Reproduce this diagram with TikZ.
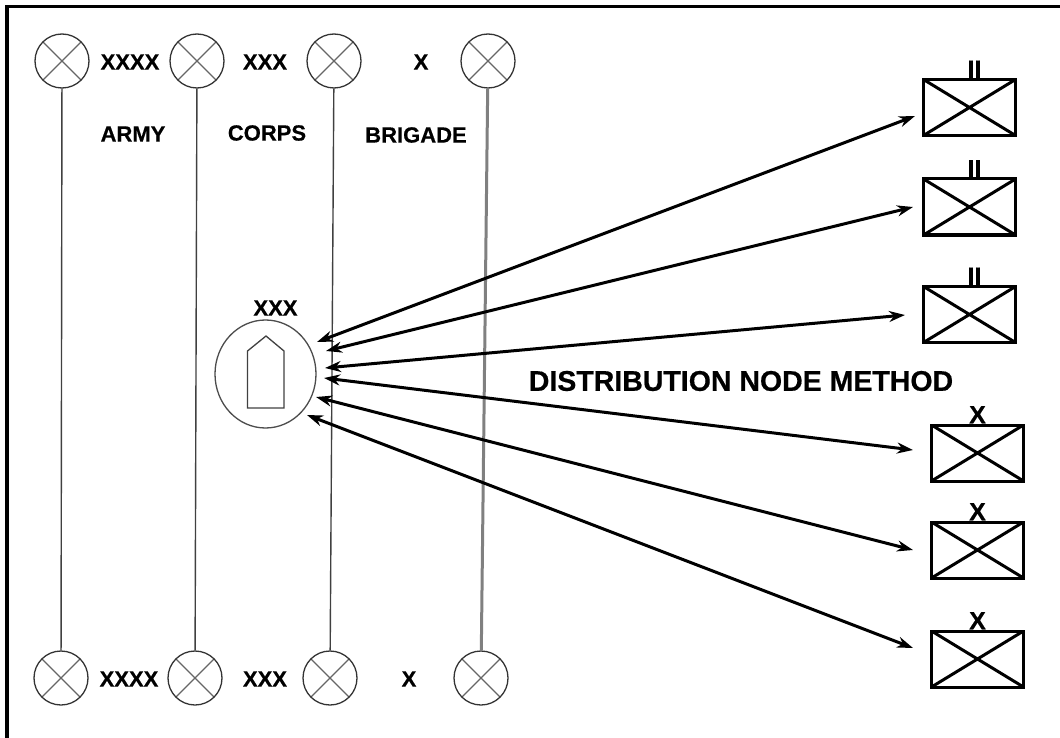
\documentclass[tikz,border=0pt]{standalone}
\usepackage{fontspec}
\setmainfont{Liberation Sans}[BoldFeatures={FakeBold=0.5}]
\usetikzlibrary{shapes.geometric,arrows.meta,positioning}

\begin{document}
\begin{tikzpicture}[x=1pt,y=-1pt]

\tikzstyle{unit}=[circle, draw=black!80, line width=1.3pt, minimum size=54pt, inner sep=0pt,
    path picture={\draw[black!60, line width=1.3pt]
        (path picture bounding box.north west) -- (path picture bounding box.south east)
        (path picture bounding box.north east) -- (path picture bounding box.south west);}]

\tikzstyle{comp}=[draw, line width=3pt, minimum width=92pt, minimum height=56pt, inner sep=0pt,
    path picture={\draw[line width=3pt]
        (path picture bounding box.north west) -- (path picture bounding box.south east)
        (path picture bounding box.north east) -- (path picture bounding box.south west);}]

\tikzstyle{caption}=[font=\bfseries\fontsize{22}{22}\selectfont, inner sep=0pt]
\tikzstyle{echelon}=[font=\bfseries\fontsize{25}{25}\selectfont, inner sep=0pt, node distance=0pt]
\tikzstyle{vline}=[black!75, line width=1.4pt]
\tikzstyle{link}=[{Stealth[length=16pt,width=11pt]}-{Stealth[length=16pt,width=11pt]}, line width=3pt]

\useasboundingbox (0,0) rectangle (1060,738);

% frame
\draw[line width=3.5pt] (7,738) -- (7,6.5) -- (1060,6.5);

\foreach \n/\px in {a/62,b/197,c/334,d/488}
    \node[unit] (top\n) at (\px,61) {};
\foreach \n/\px in {a/61,b/195,c/330,d/481}
    \node[unit] (bot\n) at (\px,678) {};

\draw[vline] (topa) -- (bota);
\draw[vline] (topb) -- (botb);
\draw[vline] (topc) -- (botc);
\draw[vline, black!50, line width=3pt] (topd) -- (botd);

\node[caption] (xa) at (130,62) {XXXX};
\node[caption] (xb) at (265,62) {XXX};
\node[caption] (xc) at (421,62) {X};
\node[caption] (xd) at (129,679) {XXXX};
\node[caption] (xe) at (265,679) {XXX};
\node[caption] (xf) at (409,679) {X};

\node[caption] (army) at (133,134) {ARMY};
\node[caption] (corps) at (267,133) {CORPS};
\node[caption] (brigade) at (416,135) {BRIGADE};
\node[caption, font=\bfseries\fontsize{28.5}{28.5}\selectfont] (method) at (741,381) {DISTRIBUTION NODE METHOD};

% distribution node
\node[ellipse, draw=black!70, line width=1.3pt, minimum width=101pt, minimum height=108pt] (hub) at (265.5,374) {};
\node[caption] (hubx) at (275.5,308) {XXX};
\draw[black!75, line width=1.3pt] (247.5,408) -- (284,408) -- (284,351) -- (266,336) -- (247.5,351) -- cycle;

\foreach \n/\py in {a/107.5,b/207,c/314.5}
    \node[comp] (box\n) at (969.5,\py) {};
\foreach \n/\py in {d/453,e/550,f/659}
    \node[comp] (box\n) at (977.5,\py) {};

\foreach \n in {a,b,c}
    \node[echelon, above=of box\n, xshift=5pt] (mark\n) {II};
\foreach \n in {d,e,f}
    \node[echelon, above=of box\n] (mark\n) {X};

% arrow ends stop short of the symbols
\foreach \n/\hx/\hy/\ex/\ey in {a/317/342/915/116, b/326/351/913/207, c/325/368/905/315,
                                d/324/378/913/450, e/316/397/913/550, f/307/415/913/648} {
    \coordinate (h\n) at (\hx,\hy);
    \coordinate (e\n) at (\ex,\ey);
    \draw[link] (h\n) -- (e\n);
}

\end{tikzpicture}
\end{document}
